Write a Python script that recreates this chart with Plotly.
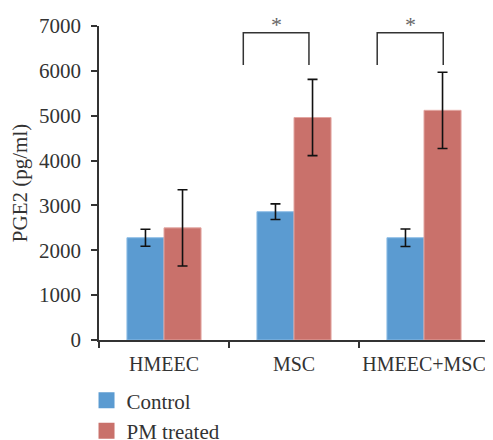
import plotly.graph_objects as go

categories = ["HMEEC", "MSC", "HMEEC+MSC"]
control = [2280, 2860, 2280]
control_err = [190, 175, 195]
pm_treated = [2500, 4960, 5120]
pm_err = [850, 850, 850]

# significance brackets: category index, left/right offset, top and bottom levels
bracket_cat = [1, 2]
bracket_left = [-0.39, -0.36]
bracket_right = [0.115, 0.148]
bracket_top = [6850, 6850]
bracket_bottom = [6130, 6130]
bracket_label = ["*", "*"]

font_family = "Liberation Serif"
text_color = "#333333"

fig = go.Figure()
fig.add_trace(go.Bar(
    x=categories, y=control, name="Control", showlegend=False,
    marker=dict(color="#5B9BD1", line=dict(color="#8DBDE6", width=1)),
    error_y=dict(type="data", array=control_err, color="#111111", thickness=1.6, width=5),
))
fig.add_trace(go.Bar(
    x=categories, y=pm_treated, name="PM treated", showlegend=False,
    marker=dict(color="#C9716B", line=dict(color="#E3A6A2", width=1)),
    error_y=dict(type="data", array=pm_err, color="#111111", thickness=1.6, width=5),
))
# legend entries with larger square swatches
fig.add_trace(go.Scatter(x=[None], y=[None], mode="markers", name="Control",
                         marker=dict(symbol="square", size=16, color="#5B9BD1")))
fig.add_trace(go.Scatter(x=[None], y=[None], mode="markers", name="PM treated",
                         marker=dict(symbol="square", size=16, color="#C9716B")))

for c, l, r, t, b, lab in zip(bracket_cat, bracket_left, bracket_right, bracket_top, bracket_bottom, bracket_label):
    fig.add_shape(type="path", xref="x", yref="y",
                  path=f"M {c + l},{b} L {c + l},{t} L {c + r},{t} L {c + r},{b}",
                  line=dict(color="#333333", width=1.5))
    fig.add_annotation(x=c + (l + r) / 2, y=t, xref="x", yref="y", text=lab,
                       showarrow=False, yanchor="bottom", yshift=-6,
                       font=dict(family=font_family, size=22, color="#666666"))

fig.update_layout(
    width=485, height=432,
    margin=dict(l=91, r=4, t=18, b=100, autoexpand=False),
    paper_bgcolor="white", plot_bgcolor="white",
    barmode="group", bargap=0.43, bargroupgap=0,
    font=dict(family=font_family, size=21, color=text_color),
    showlegend=True,
    legend=dict(orientation="v", x=-0.032, xanchor="left", y=-0.128, yanchor="top",
                font=dict(family=font_family, size=21, color=text_color),
                tracegroupgap=0, itemsizing="trace"),
    xaxis=dict(type="category", showline=True, linecolor="#333333", linewidth=1.5,
               ticks="outside", tickson="boundaries", ticklen=6, tickwidth=1.5,
               tickcolor="#333333", showgrid=False, zeroline=False, tickangle=0,
               automargin=False, ticklabelstandoff=5,
               tickfont=dict(family=font_family, size=20, color=text_color)),
    yaxis=dict(range=[0, 7000], dtick=1000, showline=True, linecolor="#333333", linewidth=1.5,
               ticks="outside", ticklen=6, tickwidth=1.5, tickcolor="#333333",
               showgrid=False, zeroline=False, ticklabelstandoff=6, automargin=False,
               title=dict(text="PGE2 (pg/ml)", standoff=12,
                          font=dict(family=font_family, size=21, color=text_color)),
               tickfont=dict(family=font_family, size=21, color=text_color)),
)

fig.write_html("out.html")
